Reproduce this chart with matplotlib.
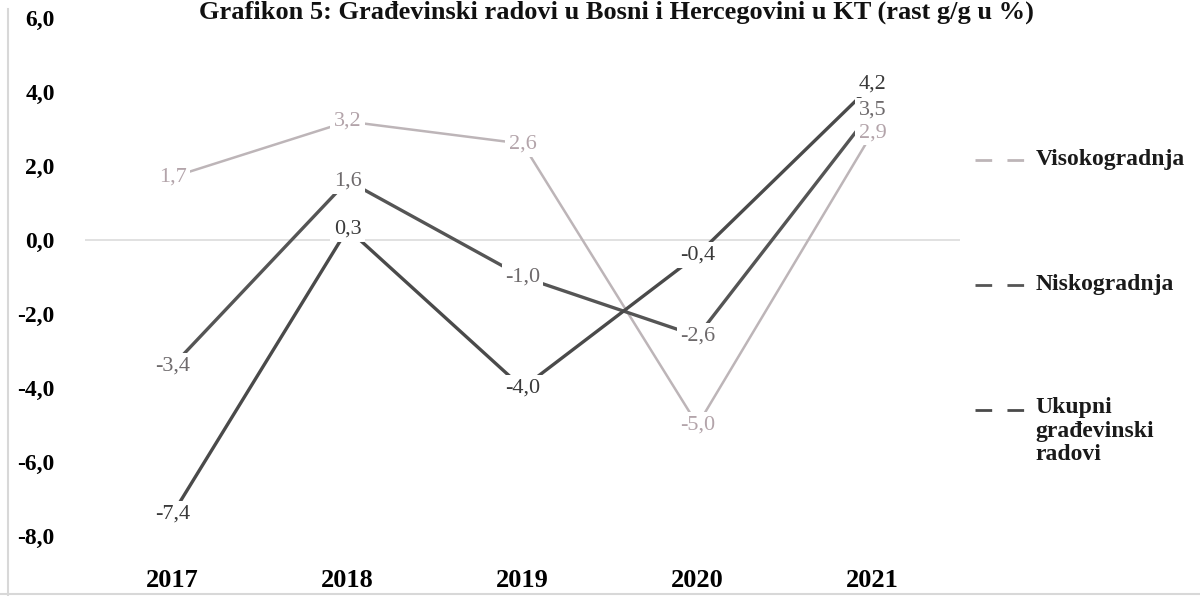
import matplotlib.pyplot as plt
from matplotlib.lines import Line2D
from matplotlib.ticker import FuncFormatter

# -------------------------- podaci --------------------------
godine = ['2017', '2018', '2019', '2020', '2021']
visokogradnja = [1.7, 3.2, 2.6, -5.0, 2.9]
niskogradnja = [-3.4, 1.6, -1.0, -2.6, 3.5]
ukupni = [-7.4, 0.3, -4.0, -0.4, 4.2]

naslov = 'Grafikon 5: Građevinski radovi u Bosni i Hercegovini u KT (rast g/g u %)'

serije = [
    {'data': visokogradnja, 'name': 'Visokogradnja', 'line': '#bdb5b8',
     'text': '#b3a4aa', 'lw': 1.8, 'z': 6},
    {'data': niskogradnja, 'name': 'Niskogradnja', 'line': '#555555',
     'text': '#6e6a6c', 'lw': 2.4, 'z': 5},
    {'data': ukupni, 'name': 'Ukupni\ngrađevinski\nradovi', 'line': '#4a4a4a',
     'text': '#3a3a3a', 'lw': 2.4, 'z': 4},
]

plt.rcParams['font.family'] = ['Liberation Serif', 'DejaVu Serif']

fig = plt.figure(figsize=(12, 5.96), dpi=100)
ax = fig.add_axes([0.071, 0.1007, 0.729, 0.8693])

x = list(range(len(godine)))
for s in serije:
    ax.plot(x, s['data'], color=s['line'], lw=s['lw'], zorder=2,
            solid_capstyle='butt')
    for xi, v in zip(x, s['data']):
        ax.text(xi, v, f'{v:.1f}'.replace('.', ','), ha='center', va='center',
                fontsize=16, color=s['text'], zorder=s['z'],
                bbox=dict(boxstyle='square,pad=0.15', fc='white', ec='none'))

ax.axhline(0, color='#dcdcdc', lw=1.2, zorder=1)

ax.set_xlim(-0.5, len(godine) - 0.5)
ax.set_ylim(-8, 6)
ax.set_yticks(range(-8, 7, 2))
ax.yaxis.set_major_formatter(FuncFormatter(lambda v, p: f'{v:.1f}'.replace('.', ',')))
ax.set_xticks(x)
ax.set_xticklabels(godine)
ax.tick_params(axis='y', length=0, labelsize=17, pad=22)
ax.tick_params(axis='x', length=0, labelsize=19, pad=24)
for lab in ax.get_xticklabels() + ax.get_yticklabels():
    lab.set_fontweight('bold')
for sp in ax.spines.values():
    sp.set_visible(False)

# legenda (ručno, kao u originalu)
leg_y = [0.732, 0.522, 0.312]
for s, yy in zip(serije, leg_y):
    fig.add_artist(Line2D([0.8125, 0.86], [yy, yy], color=s['line'], lw=2.0,
                          linestyle=(0, (6, 5.5))))
    if '\n' in s['name']:
        fig.text(0.863, yy + 0.022, s['name'], ha='left', va='top', fontsize=17,
                 fontweight='bold', color='#1a1a1a', linespacing=1.17)
    else:
        fig.text(0.863, yy, s['name'], ha='left', va='center', fontsize=17,
                 fontweight='bold', color='#1a1a1a')

# naslov
fig.text(0.514, 0.999, naslov, ha='center', va='top', fontsize=19,
         fontweight='bold', color='#111111')

# rubovi skena
fig.add_artist(Line2D([0.007, 0.007], [0.0, 0.985], color='#d8d8d8', lw=1.5))
fig.add_artist(Line2D([0.0, 1.0], [0.004, 0.004], color='#d8d8d8', lw=1.5))

plt.savefig('out.png', dpi=100, facecolor='white')
